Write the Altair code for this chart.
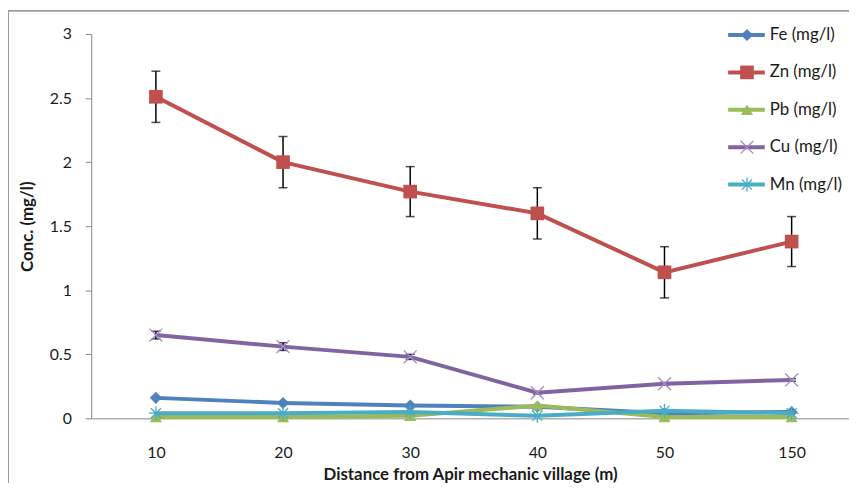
import altair as alt
import pandas as pd

# ---- data ----
cats = ["10", "20", "30", "40", "50", "150"]
names = ["Fe (mg/l)", "Zn (mg/l)", "Pb (mg/l)", "Cu (mg/l)", "Mn (mg/l)"]
fe = [0.16, 0.12, 0.10, 0.09, 0.04, 0.05]
zn = [2.51, 2.00, 1.77, 1.60, 1.14, 1.38]
pb = [0.01, 0.01, 0.02, 0.10, 0.01, 0.01]
cu = [0.65, 0.56, 0.48, 0.20, 0.27, 0.30]
mn = [0.04, 0.04, 0.05, 0.02, 0.06, 0.04]
zn_err = [0.20, 0.20, 0.195, 0.20, 0.20, 0.195]
cu_err = [0.03, 0.03, 0.02, 0.01, 0.01, 0.01]

# ---- styles ----
line_colors = ["#4F81BD", "#C0504D", "#9BBB59", "#8064A2", "#4BACC6"]
marker_colors = ["#4F81BD", "#C0504D", "#9BBB59", "#A58BC9", "#4BACC6"]
shapes = ["diamond", "square", "triangle-up",
          "M-1,-1L1,1M-1,1L1,-1",
          "M-1,0L1,0M0,-1L0,1M-0.72,-0.72L0.72,0.72M-0.72,0.72L0.72,-0.72"]
sizes = [150, 190, 150, 170, 200]
filled = [True, True, True, False, False]

series_vals = [fe, zn, pb, cu, mn]
rows = []
for n, vals in zip(names, series_vals):
    for c, v in zip(cats, vals):
        rows.append({"series": n, "cat": c, "value": v})
df = pd.DataFrame(rows)

err_rows = []
for n, vals, errs in [(names[1], zn, zn_err), (names[3], cu, cu_err)]:
    for c, v, e in zip(cats, vals, errs):
        err_rows.append({"series": n, "cat": c, "lo": v - e, "hi": v + e})
df_err = pd.DataFrame(err_rows)

legend_df = pd.DataFrame({"series": names, "row": list(range(len(names)))})

W, H = 765, 388
FONT = "Lato"

X = alt.X("cat:N", sort=cats,
          scale=alt.Scale(type="point", padding=0.48, align=0.53),
          axis=alt.Axis(title="Distance from Apir mechanic village (m)",
                        ticks=False, labelPadding=27, labelAngle=0,
                        titlePadding=6))
Y = alt.Y("value:Q", scale=alt.Scale(domain=[0, 3], nice=False),
          axis=alt.Axis(title="Conc. (mg/l)", values=[0, 0.5, 1, 1.5, 2, 2.5, 3],
                        format="~g", tickSize=6, labelPadding=14, titlePadding=13))

main_layers = []
for i, n in enumerate(names):
    base = alt.Chart(df).transform_filter(alt.datum.series == n)
    err = df_err[df_err.series == n]
    if len(err):
        eb = alt.Chart(err)
        main_layers.append(eb.mark_rule(color="black", strokeWidth=1.5).encode(
            x=alt.X("cat:N", sort=cats), y=alt.Y("lo:Q"), y2="hi:Q"))
        for col in ["lo", "hi"]:
            main_layers.append(eb.mark_tick(color="black", thickness=1.5, size=9,
                                            orient="horizontal").encode(
                x=alt.X("cat:N", sort=cats), y=alt.Y(f"{col}:Q")))
    main_layers.append(base.mark_line(strokeWidth=4, color=line_colors[i]).encode(x=X, y=Y))
    main_layers.append(base.mark_point(shape=shapes[i], size=sizes[i], filled=filled[i],
                                       color=marker_colors[i], opacity=1,
                                       strokeWidth=1.3).encode(x=X, y=Y))

main = alt.layer(*main_layers)

LY = alt.Y("row:Q", scale=alt.Scale(domain=[0, 4], range=[1, 152]), axis=None)
leg_layers = []
for i, n in enumerate(names):
    lb = alt.Chart(legend_df).transform_filter(alt.datum.series == n)
    leg_layers.append(lb.mark_rule(strokeWidth=4, color=line_colors[i]).encode(
        x=alt.value(643), x2=alt.value(680), y=LY))
    leg_layers.append(lb.mark_point(shape=shapes[i], size=sizes[i], filled=filled[i],
                                    color=marker_colors[i], opacity=1,
                                    strokeWidth=1.3).encode(x=alt.value(662), y=LY))
    leg_layers.append(lb.mark_text(align="left", baseline="middle", fontSize=17,
                                   font=FONT, color="#1a1a1a").encode(
        x=alt.value(685), y=LY, text="series:N"))
legend = alt.layer(*leg_layers)

border = alt.Chart(legend_df).mark_rect(fill=None, stroke="#9c9c9c", strokeWidth=1,
                                        clip=False).encode(
    x=alt.value(-83.5), y=alt.value(-23.5), x2=alt.value(W + 20), y2=alt.value(H + 80))

chart = alt.layer(border, main, legend).resolve_scale(y="independent").properties(
    width=W, height=H,
    autosize=alt.AutoSizeParams(type="none"),
    padding={"left": 84, "top": 24, "right": 0, "bottom": 63},
    background="white",
).configure_view(stroke=None).configure_axis(
    grid=False, domainColor="#868686", tickColor="#868686", domainWidth=1,
    labelFont=FONT, labelFontSize=16, labelColor="#1a1a1a",
    titleFont=FONT, titleFontSize=17, titleFontWeight="bold", titleColor="#1a1a1a",
)

chart.save("out.html", embed_options={"renderer": "svg", "actions": False})
